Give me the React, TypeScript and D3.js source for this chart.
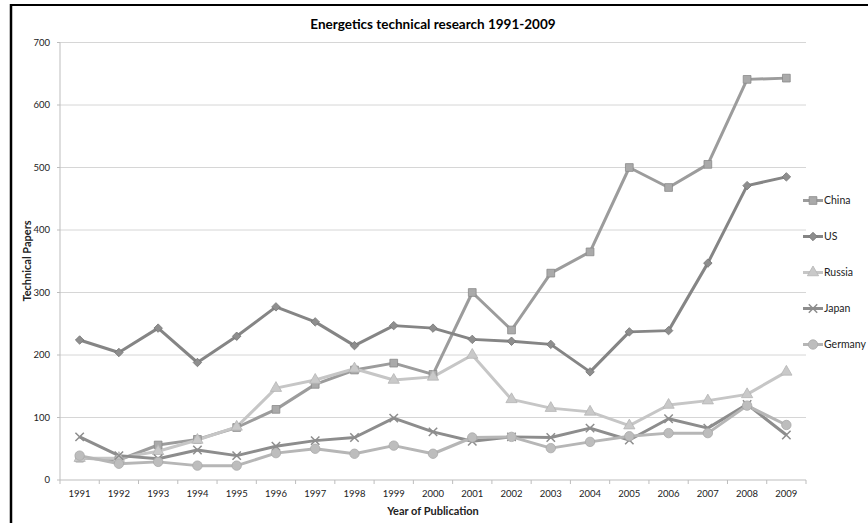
import React from "react";
import * as d3 from "d3";

const years = ["1991","1992","1993","1994","1995","1996","1997","1998","1999","2000","2001","2002","2003","2004","2005","2006","2007","2008","2009"];
const china = [35, 32, 56, 65, 84, 113, 153, 176, 187, 169, 300, 240, 331, 365, 500, 468, 505, 641, 643];
const us = [224, 204, 243, 188, 230, 277, 253, 215, 247, 243, 225, 222, 217, 173, 237, 239, 347, 471, 485];
const russia = [35, 35, 46, 64, 85, 147, 160, 178, 160, 165, 200, 129, 115, 109, 87, 120, 127, 137, 173];
const japan = [69, 39, 34, 48, 39, 54, 63, 68, 99, 77, 62, 69, 68, 83, 64, 98, 83, 121, 72];
const germany = [39, 26, 29, 23, 23, 43, 50, 42, 55, 42, 68, 69, 51, 61, 70, 75, 75, 119, 88];
const yTicks = [0, 100, 200, 300, 400, 500, 600, 700];
const seriesNames = ["China", "US", "Russia", "Japan", "Germany"];

const W = 868, H = 523;
const FONT = "Lato, 'Open Sans', sans-serif";

export default function App() {
  const x = d3.scaleBand().domain(years).range([60, 806]);
  const y = d3.scaleLinear().domain([0, 700]).range([480, 42.5]);
  const cx = (yr: string) => (x(yr) as number) + x.bandwidth() / 2;

  const symX = (d3 as any).symbolTimes || (d3 as any).symbolX || d3.symbolCross;
  const series = [
    { name: seriesNames[0], values: china, line: "#9c9c9c", fill: "#aaaaaa", stroke: "#8a8a8a", sym: d3.symbolSquare, size: 60, rot: 0 },
    { name: seriesNames[1], values: us, line: "#858585", fill: "#8e8e8e", stroke: "#767676", sym: d3.symbolSquare, size: 36, rot: 45 },
    { name: seriesNames[2], values: russia, line: "#c6c6c6", fill: "#c9c9c9", stroke: "#b5b5b5", sym: d3.symbolTriangle, size: 55, rot: 0 },
    { name: seriesNames[3], values: japan, line: "#8d8d8d", fill: "none", stroke: "#8d8d8d", sym: symX, size: 48, rot: 0 },
    { name: seriesNames[4], values: germany, line: "#b6b6b6", fill: "#bdbdbd", stroke: "#a9a9a9", sym: d3.symbolCircle, size: 70, rot: 0 },
  ];

  const lineGen = d3.line<number>().x((_, i) => cx(years[i])).y((v) => y(v));

  const marker = (s: any, px: number, py: number, key: string) => {
    const p = d3.symbol().type(s.sym).size(s.size)() as string;
    const isX = s.name === "Japan";
    return (
      <path key={key} d={p} transform={`translate(${px},${py}) rotate(${s.rot})`}
        fill={isX ? "none" : s.fill} stroke={s.stroke} strokeWidth={isX ? 1.5 : 0.8} />
    );
  };

  return (
    <svg width={W} height={H} style={{ position: "absolute", left: 0, top: 0, background: "#fff" }}>
      <rect x={0} y={0} width={W} height={H} fill="#fff" />
      <line x1={11} y1={4} x2={11} y2={H} stroke="#000" strokeWidth={2.5} />
      <line x1={10} y1={5} x2={W} y2={5} stroke="#000" strokeWidth={2} />

      <text x={433} y={29} textAnchor="middle" fontFamily={FONT} fontWeight="bold" fontSize={13.5} fill="#000">
        Energetics technical research 1991-2009
      </text>

      {yTicks.map((t) => (
        <g key={"g" + t}>
          {t > 0 && <line x1={60} x2={806} y1={y(t)} y2={y(t)} stroke="#d6d6d6" strokeWidth={1} />}
          <line x1={57} x2={60} y1={y(t)} y2={y(t)} stroke="#bdbdbd" strokeWidth={1} />
          <text x={50} y={y(t)} dy="0.35em" textAnchor="end" fontFamily={FONT} fontSize={9.5} fill="#222">{t}</text>
        </g>
      ))}
      <line x1={60} x2={60} y1={42.5} y2={480} stroke="#bdbdbd" strokeWidth={1} />
      <line x1={60} x2={806} y1={480} y2={480} stroke="#bdbdbd" strokeWidth={1} />
      {years.map((yr, i) => (
        <g key={"x" + yr}>
          <line x1={(x(yr) as number)} x2={(x(yr) as number)} y1={480} y2={484} stroke="#bdbdbd" />
          {i === years.length - 1 && <line x1={806} x2={806} y1={480} y2={484} stroke="#bdbdbd" />}
          <text x={cx(yr)} y={494} dy="0.35em" textAnchor="middle" fontFamily={FONT} fontSize={9.5} fill="#222">{yr}</text>
        </g>
      ))}

      <text x={433} y={511} dy="0.35em" textAnchor="middle" fontFamily={FONT} fontWeight="bold" fontSize={11} fill="#222">Year of Publication</text>
      <text transform={`translate(27,261) rotate(-90)`} textAnchor="middle" dy="0.35em" fontFamily={FONT} fontWeight="bold" fontSize={11} fill="#222">Technical Papers</text>

      {series.map((s) => (
        <path key={"l" + s.name} d={lineGen(s.values) as string} fill="none" stroke={s.line} strokeWidth={3} strokeLinejoin="round" />
      ))}
      {series.map((s) => (
        <g key={"m" + s.name}>
          {s.values.map((v, i) => marker(s, cx(years[i]), y(v), s.name + i))}
        </g>
      ))}

      {series.map((s, i) => {
        const ly = 200.5 + i * 36;
        return (
          <g key={"lg" + s.name}>
            <line x1={803} x2={823} y1={ly} y2={ly} stroke={s.line} strokeWidth={3} />
            {marker(s, 813, ly, "lgm" + i)}
            <text x={824} y={ly} dy="0.35em" fontFamily={FONT} fontSize={10.5} fill="#222">{s.name}</text>
          </g>
        );
      })}
    </svg>
  );
}
